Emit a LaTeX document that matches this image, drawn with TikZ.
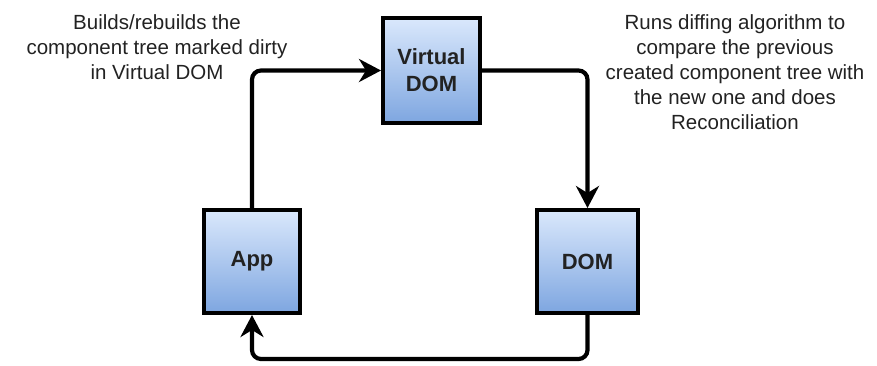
\documentclass[tikz,border=0pt]{standalone}
\usepackage{fontspec}
\setmainfont{Liberation Sans}
\usetikzlibrary{arrows.meta}
\definecolor{boxtop}{HTML}{DAE8FC}
\definecolor{boxbot}{HTML}{7EA6E0}
\definecolor{txt}{HTML}{222222}
\begin{document}
\begin{tikzpicture}[x=1pt,y=-1pt,
  blockbox/.style={draw=black,line width=4pt,top color=boxtop,bottom color=boxbot,
    inner sep=0pt,align=center,text=txt,
    font=\fontsize{22}{27}\selectfont\bfseries},
  conn/.style={line width=4.2pt,rounded corners=9pt,
    -{Stealth[length=22pt,width=23pt,inset=7pt]}},
  note/.style={align=center,text=txt,font=\fontsize{20.5}{25}\selectfont}]
\useasboundingbox (0,0) rectangle (877,365);
\node[blockbox,minimum width=97pt,minimum height=105pt] (vdom) at (431.5,70.5) {Virtual\\DOM};
\node[blockbox,minimum width=96pt,minimum height=103pt] (app) at (252,261.5) {App};
\node[blockbox,minimum width=101pt,minimum height=103pt] (dom) at (587.5,261.5) {DOM};
\coordinate (bot) at (420,359);
\draw[conn] (app.north) |- (vdom.west);
\draw[conn] (vdom.east) -| (dom.north);
\draw[conn] (dom.south) |- (bot) -| (app.south);
\node[note] (n1) at (157,47) {Builds/rebuilds the\\component tree marked dirty\\in Virtual DOM};
\node[note] (n2) at (735,72) {Runs diffing algorithm to\\compare the previous\\created component tree with\\the new one and does\\Reconciliation};
\end{tikzpicture}
\end{document}
